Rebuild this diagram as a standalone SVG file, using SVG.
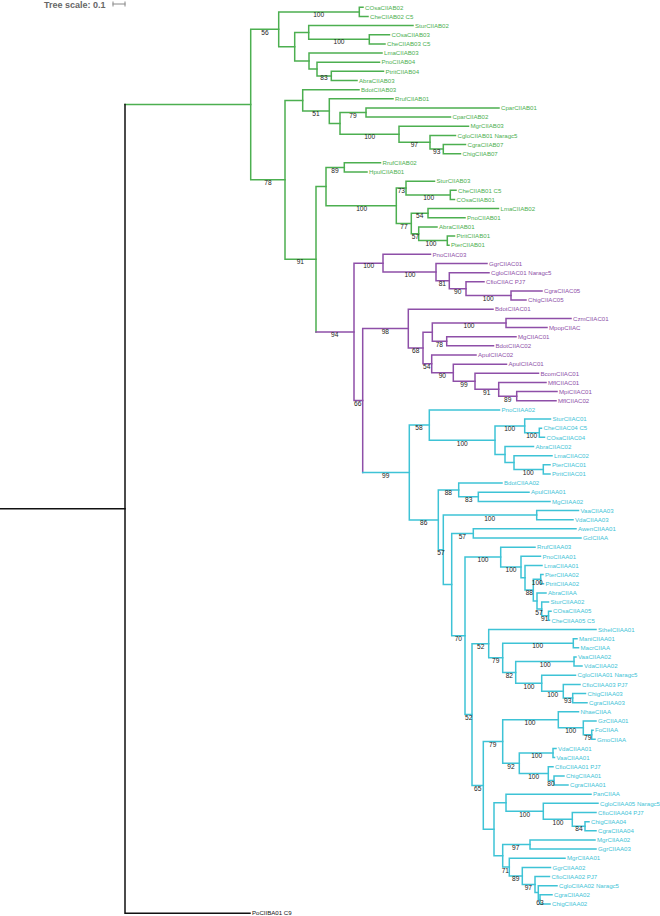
<svg xmlns="http://www.w3.org/2000/svg" width="660" height="916" viewBox="0 0 660 916">
<style>
path{fill:none;stroke-width:1.5;stroke-linejoin:miter;stroke-linecap:square}
.g{stroke:#4caf50}.p{stroke:#8e4fa8}.c{stroke:#3ec3d6}.k{stroke:#111}
text{font-family:"Liberation Sans",Arial,sans-serif}
.l{font-size:6.1px}
.tg{fill:#4caf50}.tp{fill:#8e4fa8}.tc{fill:#3ec3d6}.tk{fill:#111}
.bs{font-size:6.6px;fill:#222;text-anchor:middle}
</style>
<rect width="660" height="916" fill="#fff"/>
<g id="scale">
<text x="44" y="7.5" style="font-size:9px;font-weight:bold;fill:#666">Tree scale: 0.1</text>
<path d="M113 4 H125 M113 2 V6 M125 2 V6" style="stroke:#888;stroke-width:1"/>
</g>
<g id="connectors">
<g class="g">
<path d="M363 7.3 H359.3 V16.45 H368"/>
<path d="M389.5 34.75 H369.3 V43.9 H385"/>
<path d="M413 25.6 H308.7 V39.3 H369.3"/>
<path d="M383.5 71.35 H331.3 V80.5 H357"/>
<path d="M379.5 62.2 H317 V75.9 H331.3"/>
<path d="M382 53.05 H309 V69.05 H317"/>
<path d="M308.7 32.45 H294.7 V61.05 H309"/>
<path d="M359.3 11.9 H278.7 V46.75 H294.7"/>
<path d="M499 107.95 H366 V117.1 H450.5"/>
<path d="M465.5 144.55 H443.3 V153.7 H460.5"/>
<path d="M455.5 135.4 H430 V149.1 H443.3"/>
<path d="M468.5 126.25 H399 V142.25 H430"/>
<path d="M366 112.5 H340 V134.25 H399"/>
<path d="M393 98.8 H329.3 V123.4 H340"/>
<path d="M359 89.65 H302.7 V111.1 H329.3"/>
<path d="M380.5 162.85 H344.3 V172 H367"/>
<path d="M456 190.3 H450.3 V199.45 H454.5"/>
<path d="M434.5 181.15 H406 V194.9 H450.3"/>
<path d="M498.5 208.6 H428 V217.75 H465"/>
<path d="M454.5 236.05 H447.3 V245.2 H449"/>
<path d="M437 226.9 H418.7 V240.6 H447.3"/>
<path d="M428 213.2 H411.3 V233.75 H418.7"/>
<path d="M406 188 H396.3 V223.5 H411.3"/>
<path d="M344.3 167.4 H326 V205.75 H396.3"/>
<path d="M302.7 100.4 H285 V259.25 H316"/>
<path d="M278.7 29.3 H250.7 V179.8 H285"/>
<path d="M326 186.6 H316 V331.9"/>
<path d="M250.7 104.55 H125"/>
</g>
<g class="p">
<path d="M316 331.9 H354"/>
<path d="M383 263.2 H354 V400.55 H362.7"/>
<path d="M542 290.95 H511 V300.1 H526"/>
<path d="M484 281.8 H466 V295.5 H511"/>
<path d="M489 272.65 H449.3 V288.65 H466"/>
<path d="M487 263.5 H436 V280.65 H449.3"/>
<path d="M430.5 254.35 H383 V272.1 H436"/>
<path d="M571 318.4 H506 V327.55 H547"/>
<path d="M516 336.7 H446.7 V345.85 H493.5"/>
<path d="M506 323 H432.3 V341.3 H446.7"/>
<path d="M557 391.6 H516.7 V400.75 H556"/>
<path d="M546 382.45 H498.7 V396.2 H516.7"/>
<path d="M538.5 373.3 H475 V389.3 H498.7"/>
<path d="M506.5 364.15 H453.3 V381.3 H475"/>
<path d="M476 355 H431.7 V372.7 H453.3"/>
<path d="M432.3 332.15 H423 V363.85 H431.7"/>
<path d="M493 309.25 H408.3 V348 H423"/>
<path d="M408.3 328.6 H362.7 V472.5"/>
</g>
<g class="c">
<path d="M362.7 472.5 H409.3"/>
<path d="M541.5 428.2 H539.3 V437.35 H544.5"/>
<path d="M550.5 419.05 H524.7 V432.8 H539.3"/>
<path d="M550 464.8 H543.3 V473.95 H550"/>
<path d="M552 455.65 H514 V469.4 H543.3"/>
<path d="M533.5 446.5 H505 V462.5 H514"/>
<path d="M524.7 425.9 H495 V454.5 H505"/>
<path d="M499.5 409.9 H429.3 V440.2 H495"/>
<path d="M529 492.25 H478.3 V501.4 H550"/>
<path d="M502 483.1 H458.7 V496.8 H478.3"/>
<path d="M578.5 510.55 H536.7 V519.7 H573"/>
<path d="M576 528.85 H473.3 V538 H581"/>
<path d="M551 611.2 H548.5 V620.35 H549.5"/>
<path d="M548.5 602.05 H541.7 V615.8 H548.5"/>
<path d="M546 592.9 H537 V608.9 H541.7"/>
<path d="M543 574.6 H540.7 V583.75 H543.5"/>
<path d="M540.7 579.2 H533.3 V600.9 H537"/>
<path d="M542 565.45 H525 V590.05 H533.3"/>
<path d="M540.5 556.3 H521 V577.75 H525"/>
<path d="M535 547.15 H500.7 V567 H521"/>
<path d="M577 638.65 H573.3 V647.8 H578.5"/>
<path d="M576 656.95 H574 V666.1 H582"/>
<path d="M585.5 693.55 H572.7 V702.7 H587"/>
<path d="M580 684.4 H563.3 V698.1 H572.7"/>
<path d="M575.5 675.25 H541.7 V691.25 H563.3"/>
<path d="M574 661.5 H515.7 V683.25 H541.7"/>
<path d="M573.3 643.2 H502.7 V672.4 H515.7"/>
<path d="M596 629.5 H488.7 V657.8 H502.7"/>
<path d="M593 730.15 H591.7 V739.3 H595"/>
<path d="M596 721 H583.3 V734.7 H591.7"/>
<path d="M578.5 711.85 H558.3 V727.85 H583.3"/>
<path d="M556 748.45 H553 V757.6 H554.5"/>
<path d="M564 775.9 H554 V785.05 H568"/>
<path d="M553 766.75 H548.3 V780.5 H554"/>
<path d="M553 753 H519.3 V773.6 H548.3"/>
<path d="M558.3 719.85 H502.7 V763.3 H519.3"/>
<path d="M589 821.65 H585 V830.8 H596"/>
<path d="M596 812.5 H572.3 V826.2 H585"/>
<path d="M598 803.35 H543.3 V819.35 H572.3"/>
<path d="M591 794.2 H506 V811.35 H543.3"/>
<path d="M595 839.95 H530 V849.1 H596"/>
<path d="M552 894.85 H540 V904 H550"/>
<path d="M557 885.7 H538.3 V899.4 H540"/>
<path d="M549.5 876.55 H535 V892.55 H538.3"/>
<path d="M550.5 867.4 H522.3 V884.55 H535"/>
<path d="M565 858.25 H509.3 V876 H522.3"/>
<path d="M530 844.5 H502.7 V867.1 H509.3"/>
<path d="M506 802.8 H494 V855.8 H502.7"/>
<path d="M502.7 741.6 H483.3 V829.3 H494"/>
<path d="M488.7 643.65 H472 V785.45 H483.3"/>
<path d="M500.7 557.1 H465 V714.55 H472"/>
<path d="M473.3 533.4 H451.7 V635.8 H465"/>
<path d="M536.7 515.1 H443.3 V584.6 H451.7"/>
<path d="M458.7 489.95 H438.3 V549.85 H443.3"/>
<path d="M429.3 425.05 H409.3 V519.9 H438.3"/>
</g>
<g class="k">
<path d="M0 508.85 H125"/>
<path d="M125 104.55 V913.15 H250"/>
</g>
</g>
<g id="support">
<text class="bs" x="318.7" y="17">100</text>
<text class="bs" x="265" y="34.6">56</text>
<text class="bs" x="339" y="44.3">100</text>
<text class="bs" x="324" y="80.3">83</text>
<text class="bs" x="316" y="116.3">51</text>
<text class="bs" x="353" y="118">79</text>
<text class="bs" x="369.7" y="139.3">100</text>
<text class="bs" x="414.3" y="147.3">97</text>
<text class="bs" x="436.7" y="154">93</text>
<text class="bs" x="268" y="185">78</text>
<text class="bs" x="335" y="173">89</text>
<text class="bs" x="361.7" y="211">100</text>
<text class="bs" x="401.3" y="193.3">73</text>
<text class="bs" x="428.7" y="200">100</text>
<text class="bs" x="404" y="228.6">77</text>
<text class="bs" x="419.7" y="218.3">54</text>
<text class="bs" x="415.3" y="239.3">57</text>
<text class="bs" x="431" y="245.6">100</text>
<text class="bs" x="300.3" y="264">91</text>
<text class="bs" x="334.7" y="337">94</text>
<text class="bs" x="368.7" y="268.3">100</text>
<text class="bs" x="410" y="277.3">100</text>
<text class="bs" x="442.3" y="286.3">81</text>
<text class="bs" x="457.7" y="294">90</text>
<text class="bs" x="488.3" y="300.6">100</text>
<text class="bs" x="357.7" y="406.3">66</text>
<text class="bs" x="385.3" y="334">98</text>
<text class="bs" x="415.7" y="353.3">68</text>
<text class="bs" x="469" y="328">100</text>
<text class="bs" x="439.3" y="346.6">78</text>
<text class="bs" x="426.7" y="369">54</text>
<text class="bs" x="442.3" y="378">90</text>
<text class="bs" x="464" y="386.6">99</text>
<text class="bs" x="486.7" y="394.6">91</text>
<text class="bs" x="507.7" y="401.6">89</text>
<text class="bs" x="385.7" y="477.6">99</text>
<text class="bs" x="419" y="430">58</text>
<text class="bs" x="462.3" y="445.6">100</text>
<text class="bs" x="509.7" y="431.3">100</text>
<text class="bs" x="531.7" y="438.3">100</text>
<text class="bs" x="528.3" y="474.6">100</text>
<text class="bs" x="448.3" y="495.3">88</text>
<text class="bs" x="468.7" y="502.3">83</text>
<text class="bs" x="423.7" y="525">86</text>
<text class="bs" x="489.7" y="520.6">100</text>
<text class="bs" x="441" y="555">57</text>
<text class="bs" x="462.3" y="539">57</text>
<text class="bs" x="483" y="562.3">100</text>
<text class="bs" x="511" y="572.3">100</text>
<text class="bs" x="537.3" y="584.6">100</text>
<text class="bs" x="529.3" y="595">88</text>
<text class="bs" x="539" y="614.6">57</text>
<text class="bs" x="544.7" y="621.3">91</text>
<text class="bs" x="458.3" y="641.3">70</text>
<text class="bs" x="480.7" y="649">52</text>
<text class="bs" x="537.7" y="648.3">100</text>
<text class="bs" x="495.7" y="663.3">79</text>
<text class="bs" x="545.3" y="666.6">100</text>
<text class="bs" x="509.3" y="678">82</text>
<text class="bs" x="529" y="689">100</text>
<text class="bs" x="552.7" y="696.6">100</text>
<text class="bs" x="567.7" y="703.3">93</text>
<text class="bs" x="468.7" y="719.6">52</text>
<text class="bs" x="530" y="725">100</text>
<text class="bs" x="570.7" y="733">100</text>
<text class="bs" x="587.7" y="740">79</text>
<text class="bs" x="492.7" y="747.3">79</text>
<text class="bs" x="536.7" y="758">100</text>
<text class="bs" x="511" y="769">92</text>
<text class="bs" x="533.7" y="779">100</text>
<text class="bs" x="551" y="785.6">80</text>
<text class="bs" x="477.7" y="791">65</text>
<text class="bs" x="524.7" y="816.6">100</text>
<text class="bs" x="558" y="824.6">100</text>
<text class="bs" x="579" y="831.3">84</text>
<text class="bs" x="515.7" y="850">97</text>
<text class="bs" x="505.3" y="873">71</text>
<text class="bs" x="515.7" y="881.3">89</text>
<text class="bs" x="528.3" y="889.6">97</text>
<text class="bs" x="540" y="904.6">63</text>
</g>
<g id="leaves">
<g id="leaf1"><text class="l tg" x="365" y="9.5">COsaCIIAB02</text></g>
<g id="leaf2"><text class="l tg" x="370" y="18.65">CheCIIAB02 C5</text></g>
<g id="leaf3"><text class="l tg" x="415" y="27.8">SturCIIAB02</text></g>
<g id="leaf4"><text class="l tg" x="391.5" y="36.95">COsaCIIAB03</text></g>
<g id="leaf5"><text class="l tg" x="387" y="46.1">CheCIIAB03 C5</text></g>
<g id="leaf6"><text class="l tg" x="384" y="55.25">LmaCIIAB03</text></g>
<g id="leaf7"><text class="l tg" x="381.5" y="64.4">PnoCIIAB04</text></g>
<g id="leaf8"><text class="l tg" x="385.5" y="73.55">PtritCIIAB04</text></g>
<g id="leaf9"><text class="l tg" x="359" y="82.7">AbraCIIAB03</text></g>
<g id="leaf10"><text class="l tg" x="361" y="91.85">BdotCIIAB03</text></g>
<g id="leaf11"><text class="l tg" x="395" y="101">RrufCIIAB01</text></g>
<g id="leaf12"><text class="l tg" x="501" y="110.15">CparCIIAB01</text></g>
<g id="leaf13"><text class="l tg" x="452.5" y="119.3">CparCIIAB02</text></g>
<g id="leaf14"><text class="l tg" x="470.5" y="128.45">MgrCIIAB03</text></g>
<g id="leaf15"><text class="l tg" x="457.5" y="137.6">CgloCIIAB01 Naragc5</text></g>
<g id="leaf16"><text class="l tg" x="467.5" y="146.75">CgraCIIAB07</text></g>
<g id="leaf17"><text class="l tg" x="462.5" y="155.9">ChigCIIAB07</text></g>
<g id="leaf18"><text class="l tg" x="382.5" y="165.05">RrufCIIAB02</text></g>
<g id="leaf19"><text class="l tg" x="369" y="174.2">HpulCIIAB01</text></g>
<g id="leaf20"><text class="l tg" x="436.5" y="183.35">SturCIIAB03</text></g>
<g id="leaf21"><text class="l tg" x="458" y="192.5">CheCIIAB01 C5</text></g>
<g id="leaf22"><text class="l tg" x="456.5" y="201.65">COsaCIIAB01</text></g>
<g id="leaf23"><text class="l tg" x="500.5" y="210.8">LmaCIIAB02</text></g>
<g id="leaf24"><text class="l tg" x="467" y="219.95">PnoCIIAB01</text></g>
<g id="leaf25"><text class="l tg" x="439" y="229.1">AbraCIIAB01</text></g>
<g id="leaf26"><text class="l tg" x="456.5" y="238.25">PtritCIIAB01</text></g>
<g id="leaf27"><text class="l tg" x="451" y="247.4">PterCIIAB01</text></g>
<g id="leaf28"><text class="l tp" x="432.5" y="256.55">PnoCIIAC03</text></g>
<g id="leaf29"><text class="l tp" x="489" y="265.7">GgrCIIAC01</text></g>
<g id="leaf30"><text class="l tp" x="491" y="274.85">CgloCIIAC01 Naragc5</text></g>
<g id="leaf31"><text class="l tp" x="486" y="284">CfioCIIAC PJ7</text></g>
<g id="leaf32"><text class="l tp" x="544" y="293.15">CgraCIIAC05</text></g>
<g id="leaf33"><text class="l tp" x="528" y="302.3">ChigCIIAC05</text></g>
<g id="leaf34"><text class="l tp" x="495" y="311.45">BdotCIIAC01</text></g>
<g id="leaf35"><text class="l tp" x="573" y="320.6">CzmCIIAC01</text></g>
<g id="leaf36"><text class="l tp" x="549" y="329.75">MpopCIIAC</text></g>
<g id="leaf37"><text class="l tp" x="518" y="338.9">MgCIIAC01</text></g>
<g id="leaf38"><text class="l tp" x="495.5" y="348.05">BdotCIIAC02</text></g>
<g id="leaf39"><text class="l tp" x="478" y="357.2">ApulCIIAC02</text></g>
<g id="leaf40"><text class="l tp" x="508.5" y="366.35">ApulCIIAC01</text></g>
<g id="leaf41"><text class="l tp" x="540.5" y="375.5">BcomCIIAC01</text></g>
<g id="leaf42"><text class="l tp" x="548" y="384.65">MflCIIAC01</text></g>
<g id="leaf43"><text class="l tp" x="559" y="393.8">MpiCIIAC01</text></g>
<g id="leaf44"><text class="l tp" x="558" y="402.95">MflCIIAC02</text></g>
<g id="leaf45"><text class="l tc" x="501.5" y="412.1">PnoCIIAA02</text></g>
<g id="leaf46"><text class="l tc" x="552.5" y="421.25">SturCIIAC01</text></g>
<g id="leaf47"><text class="l tc" x="543.5" y="430.4">CheCIIAC04 C5</text></g>
<g id="leaf48"><text class="l tc" x="546.5" y="439.55">COsaCIIAC04</text></g>
<g id="leaf49"><text class="l tc" x="535.5" y="448.7">AbraCIIAC02</text></g>
<g id="leaf50"><text class="l tc" x="554" y="457.85">LmaCIIAC02</text></g>
<g id="leaf51"><text class="l tc" x="552" y="467">PterCIIAC01</text></g>
<g id="leaf52"><text class="l tc" x="552" y="476.15">PtritCIIAC01</text></g>
<g id="leaf53"><text class="l tc" x="504" y="485.3">BdotCIIAA02</text></g>
<g id="leaf54"><text class="l tc" x="531" y="494.45">ApulCIIAA01</text></g>
<g id="leaf55"><text class="l tc" x="552" y="503.6">MgCIIAA02</text></g>
<g id="leaf56"><text class="l tc" x="580.5" y="512.75">VaaCIIAA03</text></g>
<g id="leaf57"><text class="l tc" x="575" y="521.9">VdaCIIAA03</text></g>
<g id="leaf58"><text class="l tc" x="578" y="531.05">AwenCIIAA01</text></g>
<g id="leaf59"><text class="l tc" x="583" y="540.2">GclCIIAA</text></g>
<g id="leaf60"><text class="l tc" x="537" y="549.35">RrufCIIAA03</text></g>
<g id="leaf61"><text class="l tc" x="542.5" y="558.5">PnoCIIAA01</text></g>
<g id="leaf62"><text class="l tc" x="544" y="567.65">LmaCIIAA01</text></g>
<g id="leaf63"><text class="l tc" x="545" y="576.8">PterCIIAA02</text></g>
<g id="leaf64"><text class="l tc" x="545.5" y="585.95">PtritCIIAA02</text></g>
<g id="leaf65"><text class="l tc" x="548" y="595.1">AbraCIIAA</text></g>
<g id="leaf66"><text class="l tc" x="550.5" y="604.25">SturCIIAA02</text></g>
<g id="leaf67"><text class="l tc" x="553" y="613.4">COsaCIIAA05</text></g>
<g id="leaf68"><text class="l tc" x="551.5" y="622.55">CheCIIAA05 C5</text></g>
<g id="leaf69"><text class="l tc" x="598" y="631.7">SthelCIIAA01</text></g>
<g id="leaf70"><text class="l tc" x="579" y="640.85">ManiCIIAA01</text></g>
<g id="leaf71"><text class="l tc" x="580.5" y="650">MacrCIIAA</text></g>
<g id="leaf72"><text class="l tc" x="578" y="659.15">VaaCIIAA02</text></g>
<g id="leaf73"><text class="l tc" x="584" y="668.3">VdaCIIAA02</text></g>
<g id="leaf74"><text class="l tc" x="577.5" y="677.45">CgloCIIAA01 Naragc5</text></g>
<g id="leaf75"><text class="l tc" x="582" y="686.6">CfioCIIAA03 PJ7</text></g>
<g id="leaf76"><text class="l tc" x="587.5" y="695.75">ChigCIIAA03</text></g>
<g id="leaf77"><text class="l tc" x="589" y="704.9">CgraCIIAA03</text></g>
<g id="leaf78"><text class="l tc" x="580.5" y="714.05">NhaeCIIAA</text></g>
<g id="leaf79"><text class="l tc" x="598" y="723.2">GzCIIAA01</text></g>
<g id="leaf80"><text class="l tc" x="595" y="732.35">FoCIIAA</text></g>
<g id="leaf81"><text class="l tc" x="597" y="741.5">GmoCIIAA</text></g>
<g id="leaf82"><text class="l tc" x="558" y="750.65">VdaCIIAA01</text></g>
<g id="leaf83"><text class="l tc" x="556.5" y="759.8">VaaCIIAA01</text></g>
<g id="leaf84"><text class="l tc" x="555" y="768.95">CfioCIIAA01 PJ7</text></g>
<g id="leaf85"><text class="l tc" x="566" y="778.1">ChigCIIAA01</text></g>
<g id="leaf86"><text class="l tc" x="570" y="787.25">CgraCIIAA01</text></g>
<g id="leaf87"><text class="l tc" x="593" y="796.4">PanCIIAA</text></g>
<g id="leaf88"><text class="l tc" x="600" y="805.55">CgloCIIAA05 Naragc5</text></g>
<g id="leaf89"><text class="l tc" x="598" y="814.7">CfioCIIAA04 PJ7</text></g>
<g id="leaf90"><text class="l tc" x="591" y="823.85">ChigCIIAA04</text></g>
<g id="leaf91"><text class="l tc" x="598" y="833">CgraCIIAA04</text></g>
<g id="leaf92"><text class="l tc" x="597" y="842.15">MgrCIIAA02</text></g>
<g id="leaf93"><text class="l tc" x="598" y="851.3">GgrCIIAA03</text></g>
<g id="leaf94"><text class="l tc" x="567" y="860.45">MgrCIIAA01</text></g>
<g id="leaf95"><text class="l tc" x="552.5" y="869.6">GgrCIIAA02</text></g>
<g id="leaf96"><text class="l tc" x="551.5" y="878.75">CfioCIIAA02 PJ7</text></g>
<g id="leaf97"><text class="l tc" x="559" y="887.9">CgloCIIAA02 Naragc5</text></g>
<g id="leaf98"><text class="l tc" x="554" y="897.05">CgraCIIAA02</text></g>
<g id="leaf99"><text class="l tc" x="552" y="906.2">ChigCIIAA02</text></g>
<g id="leaf100"><text class="l tk" x="252" y="915.35">PoCIIBA01 C9</text></g>
</g>
</svg>
